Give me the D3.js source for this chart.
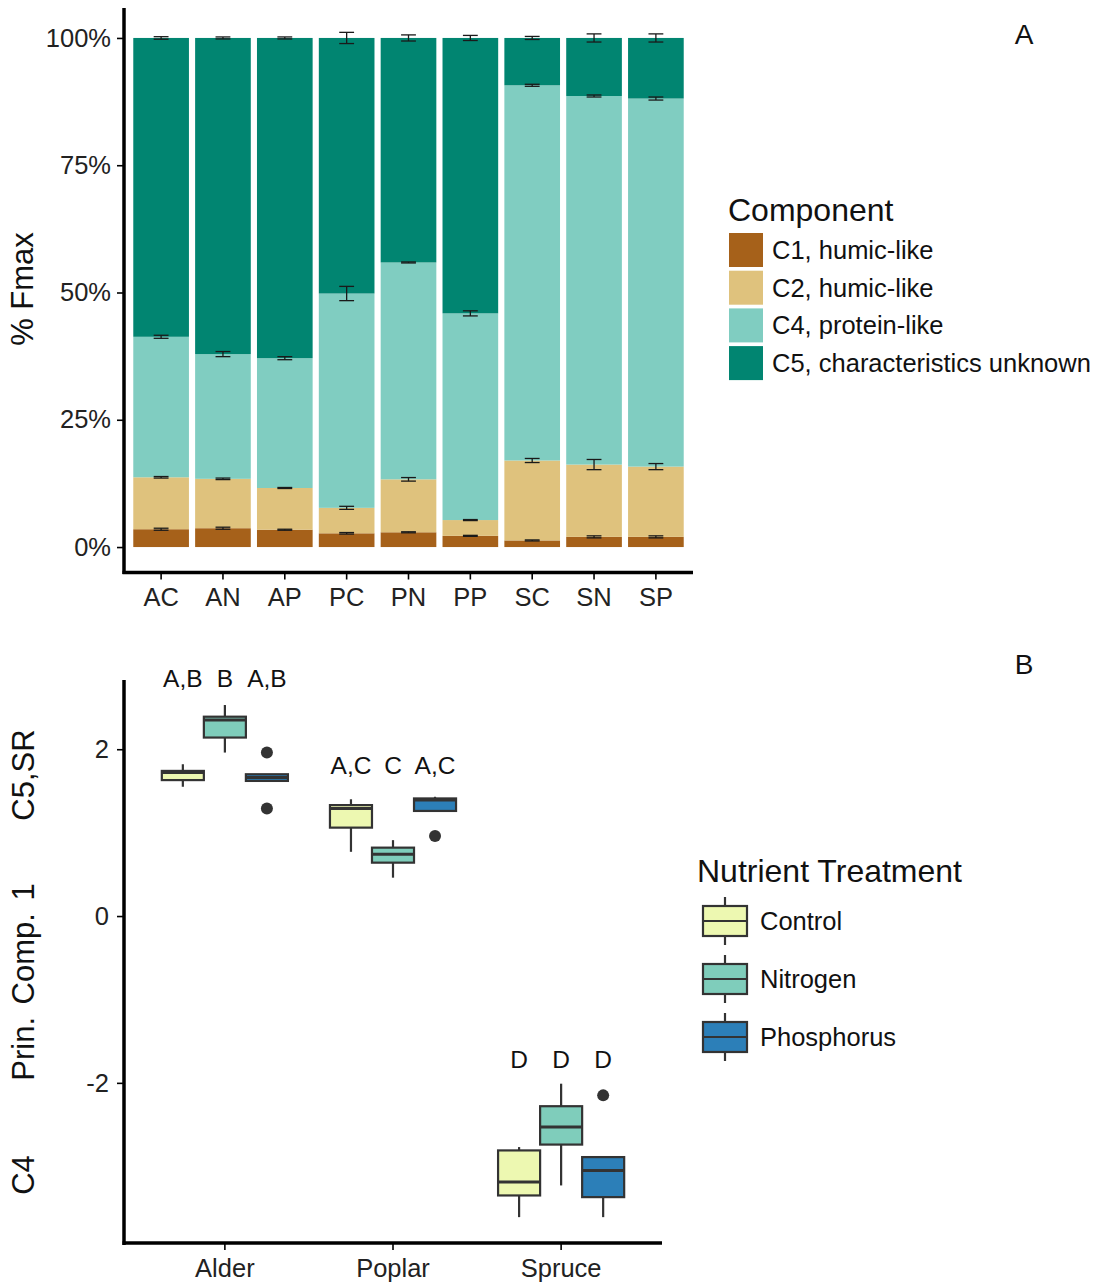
<!DOCTYPE html>
<html>
<head>
<meta charset="utf-8">
<script src="https://cdn.jsdelivr.net/npm/d3@7/dist/d3.min.js"></script>
<style>
  body { margin: 0; background: #fff; }
  svg { font-family: "Liberation Sans", Arial, sans-serif; }
  .axis path, .axis line { stroke: #000; }
  .axis text { fill: #222; }
</style>
</head>
<body>
<svg id="fig" width="1097" height="1286"></svg>
<script>
// ---- panel A data ----
const groups = ["AC", "AN", "AP", "PC", "PN", "PP", "SC", "SN", "SP"];
const components = ["C1, humic-like", "C2, humic-like", "C4, protein-like", "C5, characteristics unknown"];
const compColors = ["#a6611a", "#dfc27d", "#80cdc1", "#018571"];
// share of Fmax (%) per component
const c1 = [3.5, 3.7, 3.4, 2.7, 2.9, 2.2, 1.3, 2.0, 2.0];
const c2 = [10.2, 9.7, 8.2, 5.0, 10.4, 3.1, 15.7, 14.2, 13.8];
const c4 = [27.6, 24.5, 25.5, 42.1, 42.6, 40.6, 73.7, 72.4, 72.3];
const c5 = [58.7, 62.1, 62.9, 50.2, 44.1, 54.1, 9.3, 11.4, 11.9];
// standard errors
const se1 = [0.2, 0.2, 0.1, 0.15, 0.1, 0.1, 0.1, 0.2, 0.2];
const se2 = [0.15, 0.15, 0.1, 0.3, 0.35, 0.1, 0.4, 1.0, 0.6];
const se4 = [0.3, 0.5, 0.3, 1.4, 0.1, 0.5, 0.2, 0.2, 0.3];
const se5 = [0.25, 0.2, 0.2, 1.1, 0.6, 0.5, 0.3, 0.8, 0.8];
const pctTicks = [0, 25, 50, 75, 100];

// ---- panel B data (order: species x treatment) ----
const species = ["Alder", "Poplar", "Spruce"];
const treatments = ["Control", "Nitrogen", "Phosphorus"];
const treatColors = ["#edf8b1", "#7fcdbb", "#2c7fb8"];
const whiskLo = [1.55, 1.96, 1.62, 0.77, 0.46, 1.26, -3.61, -3.23, -3.61];
const q1 = [1.63, 2.14, 1.62, 1.06, 0.64, 1.26, -3.35, -2.74, -3.37];
const median = [1.72, 2.35, 1.66, 1.29, 0.74, 1.39, -3.19, -2.53, -3.05];
const q3 = [1.74, 2.39, 1.70, 1.33, 0.82, 1.41, -2.81, -2.28, -2.89];
const whiskHi = [1.82, 2.53, 1.70, 1.40, 0.91, 1.43, -2.77, -2.01, -2.89];
const outliers = [[], [], [1.96, 1.29], [], [], [0.96], [], [], [-2.15]];
const letters = ["A,B", "B", "A,B", "A,C", "C", "A,C", "D", "D", "D"];
const letterY = [2.85, 2.85, 2.85, 1.81, 1.81, 1.81, -1.72, -1.72, -1.72];
const pcTicks = [-2, 0, 2];

const svg = d3.select("#fig");
svg.append("rect").attr("width", 1097).attr("height", 1286).attr("fill", "#fff");

// ================= Panel A =================
const xA = d3.scaleBand().domain(groups).range([124, 693]).paddingInner(0.1).paddingOuter(0.15);
const yA = d3.scaleLinear().domain([-5, 105]).range([572.5, 12.5]);

const rows = groups.map((g, i) => ({ g, C1: c1[i], C2: c2[i], C4: c4[i], C5: c5[i] }));
const keys = ["C1", "C2", "C4", "C5"];
const stacked = d3.stack().keys(keys)(rows);
const ses = [se1, se2, se4, se5];

const gA = svg.append("g");
stacked.forEach((layer, k) => {
  gA.append("g").selectAll("rect")
    .data(layer)
    .join("rect")
    .attr("x", d => xA(d.data.g))
    .attr("width", xA.bandwidth())
    .attr("y", d => yA(d[1]))
    .attr("height", d => yA(d[0]) - yA(d[1]))
    .attr("fill", compColors[k]);
});

// error bars at each cumulative top
const capW = xA.step() * 0.24;
stacked.forEach((layer, k) => {
  const eb = gA.append("g").attr("stroke", "#1a1a1a").attr("stroke-width", 1.3);
  layer.forEach((d, i) => {
    const cx = xA(d.data.g) + xA.bandwidth() / 2;
    const top = d[1] + ses[k][i], bot = d[1] - ses[k][i];
    eb.append("line").attr("x1", cx).attr("x2", cx).attr("y1", yA(top)).attr("y2", yA(bot));
    eb.append("line").attr("x1", cx - capW / 2).attr("x2", cx + capW / 2).attr("y1", yA(top)).attr("y2", yA(top));
    eb.append("line").attr("x1", cx - capW / 2).attr("x2", cx + capW / 2).attr("y1", yA(bot)).attr("y2", yA(bot));
  });
});

// axes A
const axAy = svg.append("g").attr("class", "axis").attr("transform", "translate(124,0)")
  .call(d3.axisLeft(yA).tickValues(pctTicks).tickFormat(d => d + "%").tickSize(7).tickPadding(6));
const axAx = svg.append("g").attr("class", "axis").attr("transform", "translate(0,572.5)")
  .call(d3.axisBottom(xA).tickSize(7).tickPadding(8));
[axAy, axAx].forEach(a => {
  a.select(".domain").attr("stroke-width", 3.5);
  a.selectAll(".tick line").attr("stroke-width", 1.6);
  a.selectAll(".tick text").attr("font-size", 25.5);
});
axAy.select(".domain").attr("d", "M0,8V574");
axAx.select(".domain").attr("d", "M122.5,0H693");

svg.append("text")
  .attr("transform", "translate(33,289) rotate(-90)")
  .attr("text-anchor", "middle")
  .attr("font-size", 31)
  .attr("fill", "#111")
  .text("% Fmax");

svg.append("text").attr("x", 1024).attr("y", 44).attr("text-anchor", "middle")
  .attr("font-size", 28).attr("fill", "#111").text("A");

// legend A
const legA = svg.append("g").attr("transform", "translate(728,0)");
legA.append("text").attr("x", 0).attr("y", 221).attr("font-size", 32).attr("fill", "#111").text("Component");
components.forEach((c, i) => {
  const y = 233 + i * 37.7;
  legA.append("rect").attr("x", 1).attr("y", y).attr("width", 34).attr("height", 34).attr("fill", compColors[i]);
  legA.append("text").attr("x", 44).attr("y", y + 17).attr("dy", "0.35em")
    .attr("font-size", 25.5).attr("fill", "#111").text(c);
});

// ================= Panel B =================
const xB = d3.scaleBand().domain(species).range([124, 662]).paddingInner(0).paddingOuter(0.1);
const dodge = d3.scaleBand().domain(treatments)
  .range([-0.375 * xB.step(), 0.375 * xB.step()]);
const yB = d3.scaleLinear().domain([-3.92, 2.83]).range([1243, 680]);

const boxes = [];
species.forEach((s, si) => treatments.forEach((t, ti) => boxes.push({ s, t, ti, i: si * 3 + ti })));

const gB = svg.append("g");
boxes.forEach(b => {
  const i = b.i;
  const cx = xB(b.s) + xB.bandwidth() / 2 + dodge(b.t) + dodge.bandwidth() / 2;
  const w = dodge.bandwidth();
  const g = gB.append("g").attr("stroke", "#333").attr("stroke-width", 2.2);
  g.append("line").attr("x1", cx).attr("x2", cx).attr("y1", yB(whiskHi[i])).attr("y2", yB(q3[i]));
  g.append("line").attr("x1", cx).attr("x2", cx).attr("y1", yB(q1[i])).attr("y2", yB(whiskLo[i]));
  g.append("rect").attr("x", cx - w / 2).attr("width", w)
    .attr("y", yB(q3[i])).attr("height", yB(q1[i]) - yB(q3[i]))
    .attr("fill", treatColors[b.ti]);
  g.append("line").attr("x1", cx - w / 2).attr("x2", cx + w / 2)
    .attr("y1", yB(median[i])).attr("y2", yB(median[i])).attr("stroke-width", 3);
  outliers[i].forEach(o => {
    gB.append("circle").attr("cx", cx).attr("cy", yB(o)).attr("r", 6).attr("fill", "#333");
  });
  gB.append("text").attr("x", cx).attr("y", yB(letterY[i])).attr("dy", "0.35em")
    .attr("text-anchor", "middle").attr("font-size", 24.5).attr("fill", "#111").text(letters[i]);
});

const axBy = svg.append("g").attr("class", "axis").attr("transform", "translate(124,0)")
  .call(d3.axisLeft(yB).tickValues(pcTicks).tickFormat(d => String(d)).tickSize(7).tickPadding(8));
const axBx = svg.append("g").attr("class", "axis").attr("transform", "translate(0,1243)")
  .call(d3.axisBottom(xB).tickSize(7).tickPadding(9));
[axBy, axBx].forEach(a => {
  a.select(".domain").attr("stroke-width", 3.5);
  a.selectAll(".tick line").attr("stroke-width", 1.6);
  a.selectAll(".tick text").attr("font-size", 25.5);
});
axBy.select(".domain").attr("d", "M0,680V1245");
axBx.select(".domain").attr("d", "M122.5,0H662");

// y title split in three parts
[["C5,SR", 775], ["Prin. Comp. 1", 982], ["C4", 1175]].forEach(([t, y]) => {
  svg.append("text")
    .attr("transform", `translate(34,${y}) rotate(-90)`)
    .attr("text-anchor", "middle")
    .attr("font-size", 31)
    .attr("fill", "#111")
    .style("word-spacing", "4px")
    .text(t);
});

svg.append("text").attr("x", 1024).attr("y", 674).attr("text-anchor", "middle")
  .attr("font-size", 28).attr("fill", "#111").text("B");

// legend B
const legB = svg.append("g").attr("transform", "translate(697,0)");
legB.append("text").attr("x", 0).attr("y", 882).attr("font-size", 32).attr("fill", "#111").text("Nutrient Treatment");
treatments.forEach((t, i) => {
  const cy = 921 + i * 58;
  const k = legB.append("g").attr("stroke", "#333").attr("stroke-width", 2.2);
  k.append("line").attr("x1", 28).attr("x2", 28).attr("y1", cy - 24).attr("y2", cy + 24);
  k.append("rect").attr("x", 6).attr("y", cy - 15).attr("width", 44).attr("height", 30).attr("fill", treatColors[i]);
  k.append("line").attr("x1", 6).attr("x2", 50).attr("y1", cy).attr("y2", cy);
  legB.append("text").attr("x", 63).attr("y", cy).attr("dy", "0.35em")
    .attr("font-size", 25.5).attr("fill", "#111").text(t);
});
</script>
</body>
</html>
